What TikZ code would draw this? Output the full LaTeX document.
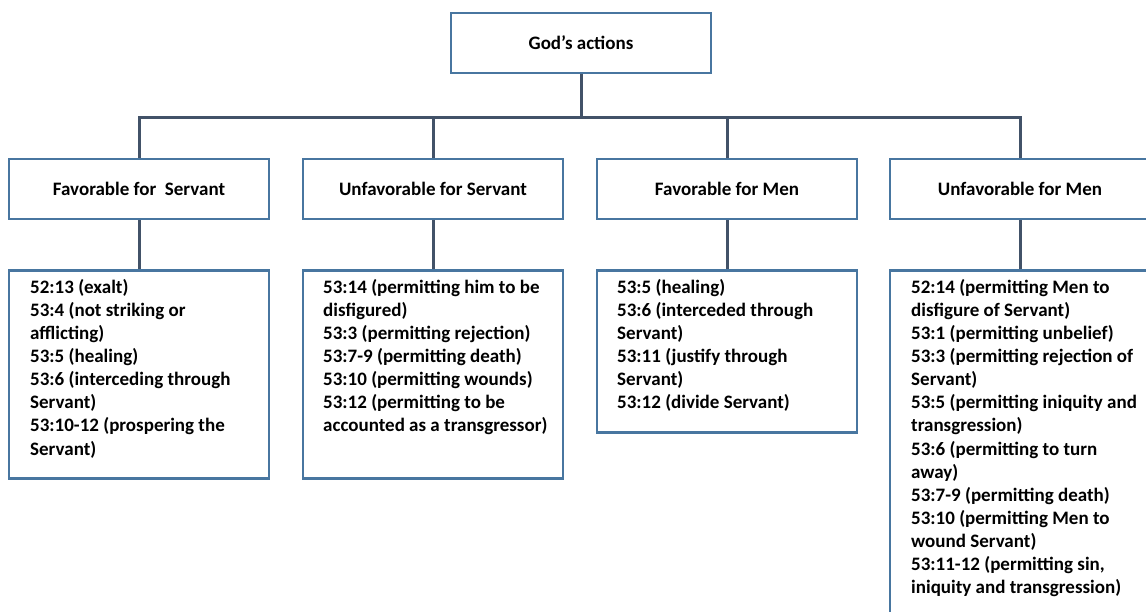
\documentclass[tikz,border=0pt]{standalone}
\usepackage{fontspec}
\setmainfont{Carlito}
\definecolor{boxblue}{RGB}{72,118,160}
\definecolor{linedark}{RGB}{66,82,104}
\begin{document}
\begin{tikzpicture}[x=1pt,y=-1pt,
  box/.style={draw=boxblue,line width=2.8pt,fill=white,minimum width=260pt,inner sep=0pt},
  conn/.style={draw=linedark,line width=3pt},
  lbl/.style={font=\bfseries\fontsize{19}{23.15}\selectfont},
  body/.style={anchor=base west,inner sep=0pt,font=\bfseries\fontsize{19}{23.15}\selectfont}]
\useasboundingbox (0,0) rectangle (1146,611);
\clip (0,0) rectangle (1146,611);
% top
\node[box,minimum height=60pt,lbl] (god) at (581,43) {God’s actions};
% headers
\node[box,minimum height=60pt,lbl] (h1) at (139,189) {Favorable for\ \ Servant};
\node[box,minimum height=60pt,lbl] (h2) at (433,189) {Unfavorable for Servant};
\node[box,minimum height=60pt,lbl] (h3) at (727,189) {Favorable for Men};
\node[box,minimum height=60pt,lbl] (h4) at (1020,189) {Unfavorable for Men};
% detail boxes
\node[box,anchor=north,minimum height=208pt] (d1) at (139,269) {};
\node[box,anchor=north,minimum height=208pt] (d2) at (433,269) {};
\node[box,anchor=north,minimum height=162pt] (d3) at (727,269) {};
\node[box,anchor=north,minimum height=420pt] (d4) at (1020,269) {};
% texts
\node[body] (t1) at (30,293) {\parbox[t]{235pt}{\raggedright
52:13 (exalt)\\
53:4 (not striking or\\
afflicting)\\
53:5 (healing)\\
53:6 (interceding through\\
Servant)\\
53:10-12 (prospering the\\
Servant)}};
\node[body] (t2) at (323,293) {\parbox[t]{235pt}{\raggedright
53:14 (permitting him to be\\
disfigured)\\
53:3 (permitting rejection)\\
53:7-9 (permitting death)\\
53:10 (permitting wounds)\\
53:12 (permitting to be\\
accounted as a transgressor)}};
\node[body] (t3) at (617,293) {\parbox[t]{235pt}{\raggedright
53:5 (healing)\\
53:6 (interceded through\\
Servant)\\
53:11 (justify through\\
Servant)\\
53:12 (divide Servant)}};
\node[body] (t4) at (911,293) {\parbox[t]{235pt}{\raggedright
52:14 (permitting Men to\\
disfigure of Servant)\\
53:1 (permitting unbelief)\\
53:3 (permitting rejection of\\
Servant)\\
53:5 (permitting iniquity and\\
transgression)\\
53:6 (permitting to turn\\
away)\\
53:7-9 (permitting death)\\
53:10 (permitting Men to\\
wound Servant)\\
53:11-12 (permitting sin,\\
iniquity and transgression)}};
% connectors
\coordinate (bus) at (581,117);
\draw[conn] (god.south) -- (bus);
\draw[conn] (h1.north) |- (bus) -| (h4.north);
\draw[conn] (h2.north) -- (h2.north |- bus);
\draw[conn] (h3.north) -- (h3.north |- bus);
\draw[conn] (h1.south) -- (d1.north);
\draw[conn] (h2.south) -- (d2.north);
\draw[conn] (h3.south) -- (d3.north);
\draw[conn] (h4.south) -- (d4.north);
\end{tikzpicture}
\end{document}
